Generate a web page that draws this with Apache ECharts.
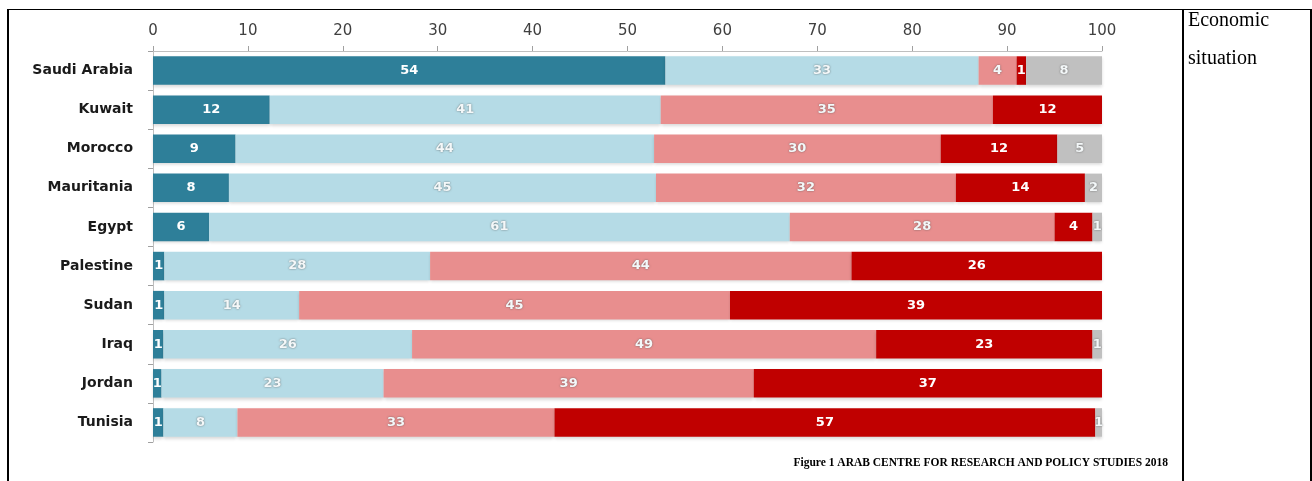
<!DOCTYPE html>
<html>
<head>
<meta charset="utf-8">
<script src="https://cdn.jsdelivr.net/npm/echarts@6/dist/echarts.min.js"></script>
<style>
  html, body { margin: 0; padding: 0; background: #fff; }
  #chart { width: 1312px; height: 481px; }
</style>
</head>
<body>
<div id="chart"></div>
<script>
// shares (%); labels show the rounded value
var countries = ['Saudi Arabia', 'Kuwait', 'Morocco', 'Mauritania', 'Egypt', 'Palestine', 'Sudan', 'Iraq', 'Jordan', 'Tunisia'];
var veryGood = [54, 12.3, 8.7, 8.0, 5.9, 1.2, 1.2, 1.1, 0.9, 1.1];
var good     = [33, 41.2, 44.1, 45.0, 61.2, 28.0, 14.2, 26.2, 23.4, 7.8];
var bad      = [4, 35.0, 30.2, 31.6, 27.9, 44.4, 45.4, 48.9, 39.0, 33.4];
var veryBad  = [1, 11.5, 12.3, 13.6, 4.0, 26.4, 39.2, 22.8, 36.7, 57.0];
var noAnswer = [8, 0, 4.7, 1.8, 1.0, 0, 0, 1.0, 0, 0.7];
var xTicks = [0, 10, 20, 30, 40, 50, 60, 70, 80, 90, 100];

var colors = ['#2e7f99', '#b5dbe6', '#e88e8e', '#c00000', '#c0c0c0'];

function fmt(p) {
    var v = Math.round(p.value);
    return v ? String(v) : '';
}
var darkLabel = {
    show: true, position: 'inside', color: '#ffffff', fontSize: 13, fontWeight: 'bold',
    fontFamily: 'DejaVu Sans', formatter: fmt
};
var lightLabel = {
    show: true, position: 'inside', color: '#f4f8f9', fontSize: 13, fontWeight: 'bold',
    fontFamily: 'DejaVu Sans', textShadowColor: 'rgba(80,80,80,0.8)', textShadowBlur: 2,
    formatter: fmt
};

function makeSeries(name, data, color, label) {
    return {
        name: name,
        type: 'bar',
        stack: 'all',
        barCategoryGap: '27%',
        data: data,
        label: label,
        itemStyle: {
            color: color,
            shadowColor: 'rgba(0,0,0,0.15)',
            shadowBlur: 3,
            shadowOffsetY: 2
        }
    };
}

var myChart = echarts.init(document.getElementById('chart'));
myChart.setOption({
    animation: false,
    grid: { left: 153, right: 210, top: 51, bottom: 39 },
    xAxis: {
        type: 'value',
        position: 'top',
        min: 0,
        max: 100,
        interval: 10,
        axisLine: { show: true, lineStyle: { color: '#bfbfbf' } },
        axisTick: { show: true, length: 5, lineStyle: { color: '#a0a0a0' } },
        splitLine: { show: false },
        axisLabel: {
            color: '#404040', fontSize: 15, fontFamily: 'DejaVu Sans', margin: 12,
            formatter: function (v) { return xTicks.indexOf(v) >= 0 ? String(v) : ''; }
        }
    },
    yAxis: {
        type: 'category',
        inverse: true,
        data: countries,
        axisLine: { show: true, lineStyle: { color: '#bfbfbf' } },
        axisTick: { show: true, length: 5, lineStyle: { color: '#a0a0a0' } },
        axisLabel: { color: '#1a1a1a', fontSize: 14, fontWeight: 'bold', fontFamily: 'DejaVu Sans', margin: 20 }
    },
    series: [
        makeSeries('Very good', veryGood, colors[0], darkLabel),
        makeSeries('Good', good, colors[1], lightLabel),
        makeSeries('Bad', bad, colors[2], lightLabel),
        makeSeries('Very bad', veryBad, colors[3], darkLabel),
        makeSeries('No answer', noAnswer, colors[4], lightLabel)
    ],
    graphic: [
        { type: 'line', shape: { x1: 8, y1: 9, x2: 8, y2: 481 }, style: { stroke: '#000', lineWidth: 2 } },
        { type: 'line', shape: { x1: 8, y1: 9.5, x2: 1312, y2: 9.5 }, style: { stroke: '#000', lineWidth: 1 } },
        { type: 'line', shape: { x1: 1183, y1: 9, x2: 1183, y2: 481 }, style: { stroke: '#000', lineWidth: 2 } },
        { type: 'line', shape: { x1: 1311, y1: 9, x2: 1311, y2: 481 }, style: { stroke: '#000', lineWidth: 2 } },
        { type: 'text', x: 1188, y: 21, style: { text: 'Economic', font: '20px "Liberation Serif"', fill: '#000', verticalAlign: 'middle' } },
        { type: 'text', x: 1188, y: 59, style: { text: 'situation', font: '20px "Liberation Serif"', fill: '#000', verticalAlign: 'middle' } },
        { type: 'text', x: 1168, y: 463, style: { text: 'Figure 1 ARAB CENTRE FOR RESEARCH AND POLICY STUDIES 2018', font: 'bold 11.5px "Liberation Serif"', fill: '#000', align: 'right', verticalAlign: 'middle' } }
    ]
});
</script>
</body>
</html>
